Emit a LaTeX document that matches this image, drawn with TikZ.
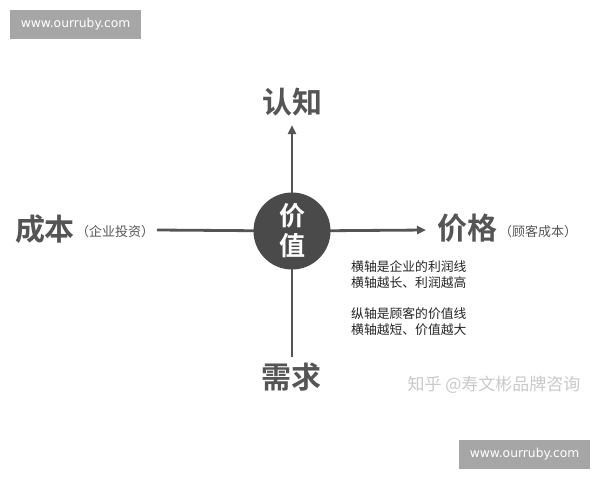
\documentclass[tikz,border=0pt]{standalone}
\usepackage{fontspec}
\newfontfamily\cjk{Noto Sans CJK SC}
\newfontfamily\cjkb{Noto Sans CJK SC Bold}
\setsansfont{DejaVu Sans}
\usetikzlibrary{arrows.meta}

\definecolor{axisgray}{HTML}{555555}
\definecolor{dotgray}{HTML}{4A4A4A}
\definecolor{boxgray}{HTML}{A6A6A6}
\definecolor{markgray}{HTML}{C9C9C9}

\tikzset{
  axis/.style={line width=2.8pt, draw=axisgray},
  bigword/.style={text=axisgray, font=\cjkb\fontsize{30}{30}\selectfont, inner sep=0pt},
  smallword/.style={text=axisgray, font=\cjk\fontsize{13}{13}\selectfont, inner sep=0pt},
  urlbox/.style={fill=boxgray, text=white, font=\sffamily\fontsize{12.3}{12}\selectfont,
    minimum width=131pt, minimum height=29pt, inner sep=0pt}
}

\begin{document}
\begin{tikzpicture}[x=1pt, y=-1pt]
	\useasboundingbox (0,0) rectangle (600,480);
	\fill[white] (0,0) rectangle (600,480);

	% watermarks
	\node[urlbox] (urltop) at (75.5,24.5) {www.ourruby.com};
	\node[urlbox] (urlbot) at (524.5,454.5) {www.ourruby.com};

	% ends of the axes
	\coordinate (north) at (292,125);
	\coordinate (south) at (292,357);
	\coordinate (west) at (157,230);
	\coordinate (east) at (426,230);

	\draw[axis, -{Triangle[length=9pt, width=8pt]}] (292,231) -- (north);
	\draw[axis] (292,231) -- (south);
	\draw[axis] (west) -- (292,231);
	\draw[axis, -{Triangle[length=9pt, width=8pt]}] (292,231) -- (east);

	\node[circle, fill=dotgray, minimum size=77pt, inner sep=0pt] (value) at (292,231) {};
	\node[text=white, font=\cjkb\fontsize{26}{30}\selectfont, align=center, inner sep=0pt]
		(valtext) at (value) {价\\值};

	\node[bigword] (cognition) at (292,102) {认知};
	\node[bigword] (demand) at (291,377) {需求};
	\node[bigword] (cost) at (45,229) {成本};
	\node[smallword, anchor=west] (invest) at (76,232) {（企业投资）};
	\node[bigword] (price) at (467,228) {价格};
	\node[smallword, anchor=west] (custcost) at (499,232) {（顾客成本）};

	% note beside the axes
	\node[text=black!85, font=\cjk\fontsize{12.8}{16}\selectfont, align=left, anchor=north west, inner sep=0pt]
		(note) at (351,260) {横轴是企业的利润线\\横轴越长、利润越高\\[15pt]纵轴是顾客的价值线\\横轴越短、价值越大};

	\node[text=markgray, font=\cjk\fontsize{17}{17}\selectfont, inner sep=0pt] (zhihu) at (494,385) {知乎 @寿文彬品牌咨询};
\end{tikzpicture}
\end{document}
